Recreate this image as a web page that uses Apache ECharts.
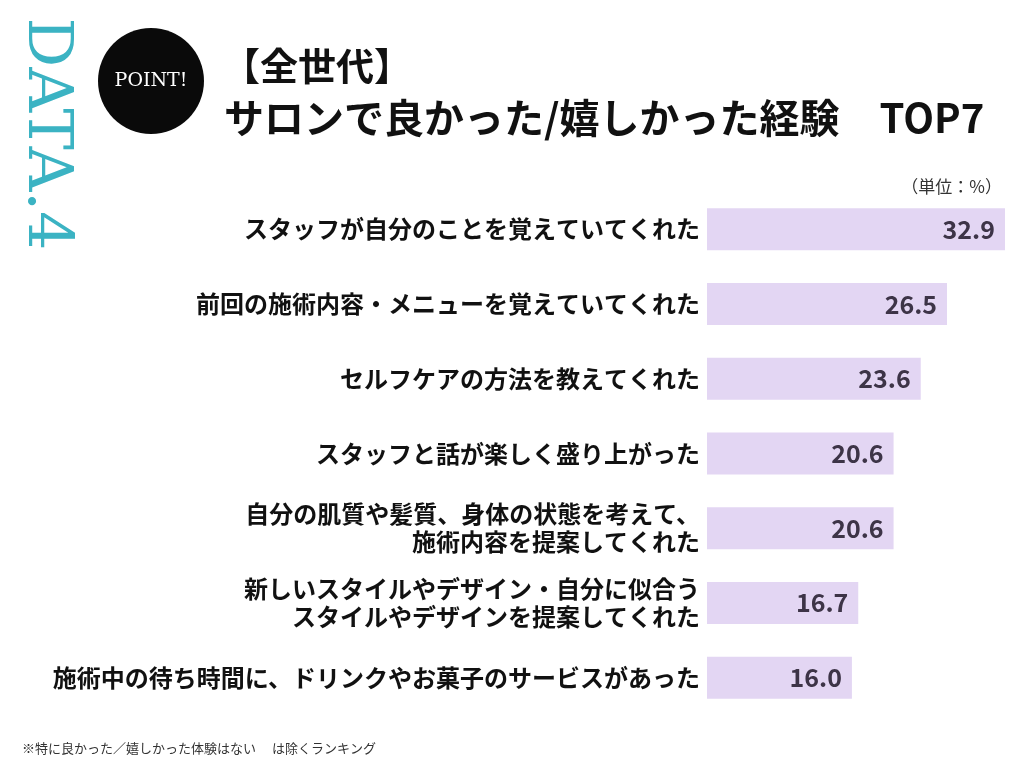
<!DOCTYPE html>
<html><head><meta charset="utf-8">
<script src="https://cdn.jsdelivr.net/npm/echarts@6/dist/echarts.min.js"></script>
<style>html,body{margin:0;padding:0;background:#fff}#c{width:1024px;height:768px}</style>
</head><body><div id="c"></div>
<script>
const categories = [
  'スタッフが自分のことを覚えていてくれた',
  '前回の施術内容・メニューを覚えていてくれた',
  'セルフケアの方法を教えてくれた',
  'スタッフと話が楽しく盛り上がった',
  '自分の肌質や髪質、身体の状態を考えて、\n施術内容を提案してくれた',
  '新しいスタイルやデザイン・自分に似合う\nスタイルやデザインを提案してくれた',
  '施術中の待ち時間に、ドリンクやお菓子のサービスがあった'
];
const values = [32.9, 26.5, 23.6, 20.6, 20.6, 16.7, 16.0];
const titleLine1 = '【全世代】';
const titleLine2 = 'サロンで良かった/嬉しかった経験　TOP7';
const unitText = '（単位：%）';
const footnote = '※特に良かった／嬉しかった体験はない　 は除くランキング';

const JP = '"Noto Sans CJK JP", "Noto Sans", sans-serif';
const chart = echarts.init(document.getElementById('c'), null, {renderer: 'canvas'});
chart.setOption({
  backgroundColor: '#ffffff',
  animation: false,
  grid: {left: 707, right: 0, top: 192, height: 523, containLabel: false},
  xAxis: {type: 'value', min: 0, max: 35, show: false},
  yAxis: {
    type: 'category', data: categories, inverse: true,
    axisLine: {show: false}, axisTick: {show: false},
    axisLabel: {
      fontFamily: JP, fontSize: 24, fontWeight: 'bold', color: '#111',
      margin: 7, lineHeight: 28, align: 'right'
    }
  },
  series: [{
    type: 'bar', data: values, barWidth: 42,
    itemStyle: {color: '#e3d6f3'},
    label: {
      show: true, position: 'insideRight', distance: 10,
      formatter: p => p.value.toFixed(1),
      fontFamily: JP, fontSize: 25, fontWeight: 'bold', color: '#3d3447'
    }
  }],
  graphic: [
    {type: 'text', x: 45, y: 134, rotation: -Math.PI / 2,
     style: {text: 'DATA.4', x: 0, y: 0, align: 'center', verticalAlign: 'middle',
             font: 'normal 62px "DejaVu Serif", serif', fill: '#3bb3c3'}},
    {type: 'circle', shape: {cx: 151, cy: 81, r: 53}, style: {fill: '#0a0a0a'}},
    {type: 'text', style: {text: 'POINT!', x: 151, y: 81, align: 'center', verticalAlign: 'middle',
             font: 'normal 19px "DejaVu Serif", serif', fill: '#ffffff'}},
    {type: 'text', style: {text: titleLine1, x: 222, y: 66, align: 'left', verticalAlign: 'middle',
             font: 'bold 38px "Noto Sans CJK JP", sans-serif', fill: '#111'}},
    {type: 'text', style: {text: titleLine2, x: 224, y: 118, align: 'left', verticalAlign: 'middle',
             font: 'bold 40px "Noto Sans CJK JP", sans-serif', fill: '#111'}},
    {type: 'text', style: {text: unitText, x: 1002, y: 187, align: 'right', verticalAlign: 'middle',
             font: 'normal 17px "Noto Sans CJK JP", sans-serif', fill: '#333'}},
    {type: 'text', style: {text: footnote, x: 22, y: 748, align: 'left', verticalAlign: 'middle',
             font: 'normal 13px "Noto Sans CJK JP", sans-serif', fill: '#333'}}
  ]
});
</script></body></html>
